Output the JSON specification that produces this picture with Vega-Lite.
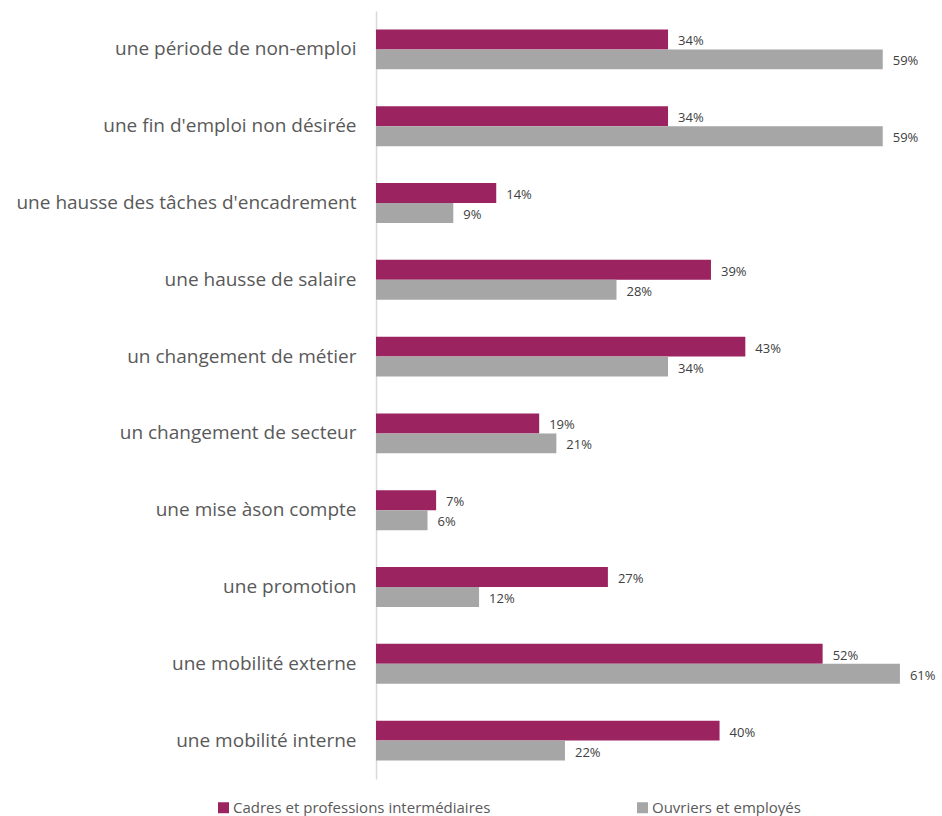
{
  "$schema": "https://vega.github.io/schema/vega-lite/v6.json",
  "width": 560,
  "height": 768,
  "autosize": "none",
  "padding": {"left": 376, "top": 11, "right": 6, "bottom": 37},
  "background": "white",
  "config": {"view": {"stroke": null}, "font": "Open Sans"},
  "data": {"values": [
    {"cat": "une période de non-emploi", "serie": "Cadres et professions intermédiaires", "val": 0.34},
    {"cat": "une période de non-emploi", "serie": "Ouvriers et employés", "val": 0.59},
    {"cat": "une fin d'emploi non désirée", "serie": "Cadres et professions intermédiaires", "val": 0.34},
    {"cat": "une fin d'emploi non désirée", "serie": "Ouvriers et employés", "val": 0.59},
    {"cat": "une hausse des tâches d'encadrement", "serie": "Cadres et professions intermédiaires", "val": 0.14},
    {"cat": "une hausse des tâches d'encadrement", "serie": "Ouvriers et employés", "val": 0.09},
    {"cat": "une hausse de salaire", "serie": "Cadres et professions intermédiaires", "val": 0.39},
    {"cat": "une hausse de salaire", "serie": "Ouvriers et employés", "val": 0.28},
    {"cat": "un changement de métier", "serie": "Cadres et professions intermédiaires", "val": 0.43},
    {"cat": "un changement de métier", "serie": "Ouvriers et employés", "val": 0.34},
    {"cat": "un changement de secteur", "serie": "Cadres et professions intermédiaires", "val": 0.19},
    {"cat": "un changement de secteur", "serie": "Ouvriers et employés", "val": 0.21},
    {"cat": "une mise àson compte", "serie": "Cadres et professions intermédiaires", "val": 0.07},
    {"cat": "une mise àson compte", "serie": "Ouvriers et employés", "val": 0.06},
    {"cat": "une promotion", "serie": "Cadres et professions intermédiaires", "val": 0.27},
    {"cat": "une promotion", "serie": "Ouvriers et employés", "val": 0.12},
    {"cat": "une mobilité externe", "serie": "Cadres et professions intermédiaires", "val": 0.52},
    {"cat": "une mobilité externe", "serie": "Ouvriers et employés", "val": 0.61},
    {"cat": "une mobilité interne", "serie": "Cadres et professions intermédiaires", "val": 0.40},
    {"cat": "une mobilité interne", "serie": "Ouvriers et employés", "val": 0.22}
  ]},
  "encoding": {
    "y": {
      "field": "cat", "type": "nominal", "sort": null, "title": null,
      "scale": {"paddingInner": 0.48, "paddingOuter": 0.24},
      "axis": {"ticks": false, "domainColor": "#d9d9d9", "domainWidth": 1.5, "labelFontSize": 19, "labelColor": "#595959", "labelPadding": 20, "labelLimit": 400, "labelFont": "Open Sans"}
    },
    "yOffset": {"field": "serie", "type": "nominal", "sort": ["Cadres et professions intermédiaires", "Ouvriers et employés"]},
    "x": {"field": "val", "type": "quantitative", "scale": {"domain": [0, 0.652], "nice": false}, "axis": null}
  },
  "layer": [
    {
      "mark": {"type": "bar"},
      "encoding": {
        "color": {
          "field": "serie", "type": "nominal",
          "scale": {"domain": ["Cadres et professions intermédiaires", "Ouvriers et employés"], "range": ["#9b2360", "#a6a6a6"]},
          "legend": {
            "title": null, "orient": "none", "direction": "horizontal",
            "legendX": -160, "legendY": 789,
            "symbolType": "square", "symbolSize": 121, "symbolStrokeWidth": 0,
            "labelFontSize": 15, "labelColor": "#595959", "labelOffset": 2,
            "columnPadding": 144, "labelLimit": 400, "labelFont": "Open Sans"
          }
        }
      }
    },
    {
      "mark": {"type": "text", "align": "left", "baseline": "middle", "dx": 10, "dy": 2, "fontSize": 13, "color": "#404040"},
      "encoding": {
        "text": {"field": "val", "type": "quantitative", "format": ".0%"}
      }
    }
  ]
}
